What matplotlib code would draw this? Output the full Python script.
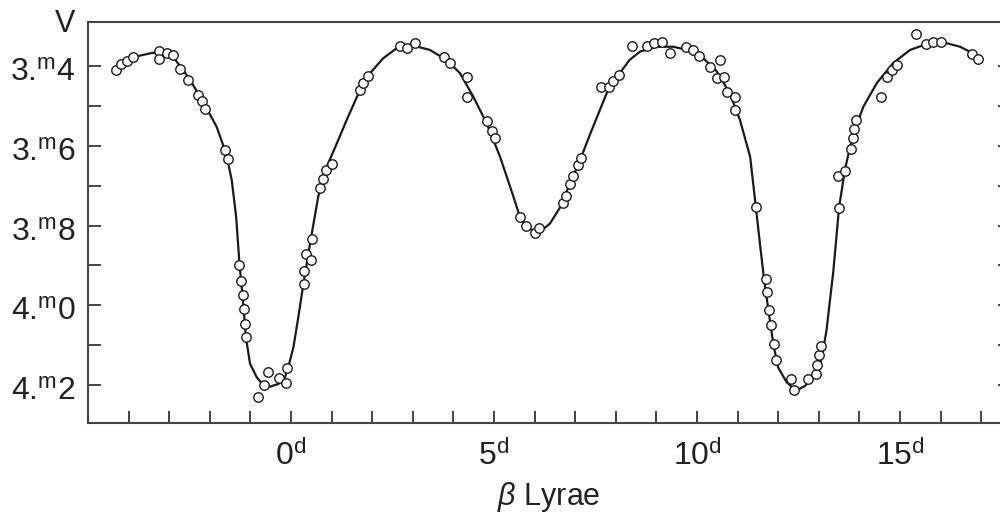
import numpy as np
import matplotlib
matplotlib.use("Agg")
import matplotlib.pyplot as plt
from matplotlib.transforms import ScaledTranslation

plt.rcParams['font.family'] = ['Liberation Sans', 'DejaVu Sans']
plt.rcParams['mathtext.fontset'] = 'custom'
plt.rcParams['mathtext.rm'] = 'Liberation Sans'
plt.rcParams['mathtext.it'] = 'Liberation Sans:italic'

# light curve of beta Lyrae (days, V magnitude)
curve_days = [-4.28, -3.97, -3.40, -2.91, -2.69, -2.50, -2.24, -2.08, -1.83, -1.60,
              -1.46, -1.35, -1.27, -1.19, -1.11, -1.01, -0.84, -0.68, -0.52, -0.31,
              -0.15, -0.07, 0.06, 0.18, 0.30, 0.47, 0.67, 0.88, 1.13, 1.37,
              1.70, 1.95, 2.27, 2.60, 2.93, 3.42, 3.83, 4.16, 4.49, 4.82,
              5.15, 5.48, 5.64, 5.84, 6.13, 6.38, 6.63, 6.87, 7.12, 7.36,
              7.61, 7.83, 8.05, 8.34, 8.60, 9.01, 9.42, 9.83, 10.16, 10.49,
              10.81, 11.06, 11.31, 11.45, 11.55, 11.65, 11.76, 11.88, 12.00, 12.21,
              12.44, 12.66, 12.91, 13.07, 13.19, 13.36, 13.50, 13.65, 13.85, 14.10,
              14.43, 14.83, 15.25, 15.66, 16.07, 16.48, 16.77]
curve_mag = [3.400, 3.380, 3.367, 3.377, 3.406, 3.433, 3.477, 3.506, 3.553, 3.619,
             3.686, 3.779, 3.895, 3.980, 4.080, 4.146, 4.181, 4.200, 4.204, 4.197,
             4.181, 4.156, 4.105, 4.030, 3.950, 3.845, 3.728, 3.653, 3.594, 3.536,
             3.460, 3.418, 3.381, 3.356, 3.347, 3.360, 3.385, 3.418, 3.477, 3.544,
             3.628, 3.728, 3.779, 3.808, 3.816, 3.795, 3.754, 3.695, 3.636, 3.573,
             3.510, 3.455, 3.425, 3.385, 3.364, 3.352, 3.352, 3.362, 3.381, 3.414,
             3.469, 3.536, 3.628, 3.754, 3.845, 3.933, 4.013, 4.097, 4.156, 4.193,
             4.214, 4.202, 4.176, 4.134, 4.063, 3.913, 3.754, 3.657, 3.569, 3.502,
             3.443, 3.393, 3.360, 3.345, 3.341, 3.352, 3.367]

obs_days = [-4.31, -4.19, -4.05, -3.88, -3.24, -3.25, -3.06, -2.91, -2.73, -2.53,
            -2.30, -2.19, -2.11, -1.62, -1.55, -1.27, -1.22, -1.19, -1.16, -1.14,
            -1.11, -0.81, -0.66, -0.57, -0.30, -0.13, -0.10, 0.32, 0.32, 0.36,
            0.49, 0.52, 0.71, 0.79, 0.87, 1.02, 1.69, 1.78, 1.90, 2.68,
            2.86, 3.05, 3.77, 3.92, 4.33, 4.34, 4.83, 4.95, 5.03, 5.64,
            5.79, 6.01, 6.11, 6.69, 6.77, 6.87, 6.94, 7.06, 7.14, 7.63,
            7.83, 7.94, 8.07, 8.39, 8.76, 8.94, 9.13, 9.33, 9.74, 9.90,
            10.04, 10.31, 10.56, 10.49, 10.67, 10.75, 10.93, 10.93, 11.45, 11.69,
            11.73, 11.78, 11.82, 11.90, 11.95, 12.31, 12.40, 12.73, 12.92, 12.96,
            13.01, 13.05, 13.50, 13.47, 13.65, 13.79, 13.84, 13.86, 13.92, 14.53,
            14.69, 14.80, 14.93, 15.39, 15.64, 15.82, 16.00, 16.77, 16.91]
obs_mag = [3.410, 3.396, 3.387, 3.378, 3.362, 3.383, 3.367, 3.373, 3.408, 3.435,
           3.474, 3.489, 3.508, 3.611, 3.634, 3.900, 3.938, 3.975, 4.009, 4.046,
           4.080, 4.231, 4.199, 4.168, 4.183, 4.195, 4.158, 3.946, 3.914, 3.872,
           3.886, 3.833, 3.706, 3.684, 3.661, 3.645, 3.460, 3.443, 3.425, 3.350,
           3.356, 3.343, 3.377, 3.392, 3.428, 3.479, 3.539, 3.563, 3.581, 3.779,
           3.800, 3.820, 3.807, 3.744, 3.727, 3.695, 3.676, 3.649, 3.632, 3.452,
           3.454, 3.438, 3.423, 3.349, 3.349, 3.343, 3.339, 3.367, 3.353, 3.360,
           3.374, 3.402, 3.385, 3.431, 3.427, 3.465, 3.477, 3.511, 3.754, 3.933,
           3.967, 4.013, 4.050, 4.098, 4.136, 4.185, 4.212, 4.185, 4.172, 4.150,
           4.124, 4.103, 3.756, 3.676, 3.663, 3.608, 3.580, 3.558, 3.535, 3.479,
           3.427, 3.410, 3.397, 3.320, 3.345, 3.341, 3.340, 3.370, 3.382]

x_major = [0, 5, 10, 15]
x_major_labels = [r"0$^{\mathrm{d}}$", r"5$^{\mathrm{d}}$", r"10$^{\mathrm{d}}$", r"15$^{\mathrm{d}}$"]
x_minor = list(range(-4, 18))
y_major = [3.4, 3.6, 3.8, 4.0, 4.2]
y_major_labels = [r"3.$^{\mathrm{m}}$4", r"3.$^{\mathrm{m}}$6", r"3.$^{\mathrm{m}}$8",
                  r"4.$^{\mathrm{m}}$0", r"4.$^{\mathrm{m}}$2"]
y_minor = [3.5, 3.7, 3.9, 4.1]

fig = plt.figure(figsize=(10, 5.2), dpi=100)
ax = fig.add_axes([0.088, 0.1865, 0.922, 0.7712])

ax.plot(curve_days, curve_mag, color='#1a1a1a', lw=1.6, zorder=2)
ax.plot(obs_days, obs_mag, 'o', ms=6.8, mfc='white', mec='#1a1a1a', mew=1.0, zorder=3)

ax.set_xlim(-5.0, 17.71)
ax.set_ylim(4.295, 3.29)

ax.set_xticks(x_major)
ax.set_xticklabels(x_major_labels)
ax.set_xticks(x_minor, minor=True)
ax.set_yticks(y_major)
ax.set_yticklabels(y_major_labels, va='center')
ax.set_yticks(y_minor, minor=True)

for sp in ax.spines.values():
    sp.set_color('#444444')
    sp.set_linewidth(1.5)

ax.tick_params(axis='both', which='both', direction='in', length=9, width=1.4,
               color='#444444', labelsize=23, labelcolor='#222222')
ax.tick_params(axis='y', which='both', right=True, left=True, pad=9)
ax.tick_params(axis='x', which='both', top=False, pad=12)

# digits sit a bit below the tick in the original
shift = ScaledTranslation(0, -0.07, fig.dpi_scale_trans)
for lbl in ax.get_yticklabels():
    lbl.set_transform(lbl.get_transform() + shift)

fig.text(0.065, 0.953, "V", fontsize=22, color='#222222', ha='center', va='center')
fig.text(0.549, 0.045, r"$\beta$ Lyrae", fontsize=22, color='#222222', ha='center', va='center')

fig.savefig("out.png", dpi=100, facecolor='white')
